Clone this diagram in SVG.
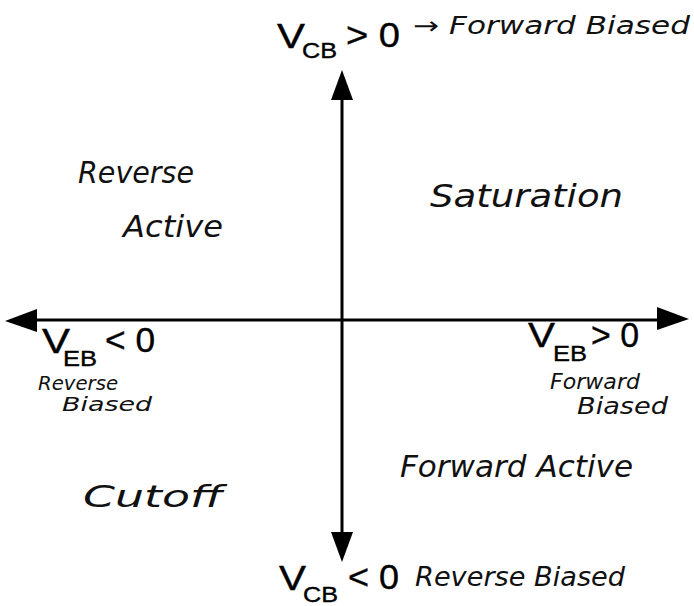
<svg xmlns="http://www.w3.org/2000/svg" width="694" height="606" viewBox="0 0 694 606">
<style>
.ax{stroke:#000;stroke-width:3;fill:none}
.ah{fill:#000}
.v{font-family:"Liberation Sans",Arial,sans-serif;fill:#000;stroke:#000;stroke-width:0.4}
.big{font-size:35px}
.sub{font-size:22px}
.hw{font-family:"DejaVu Sans","Liberation Sans",sans-serif;font-style:italic;fill:#111}
</style>
<rect width="694" height="606" fill="#fff"/>
<g id="axes">
<line class="ax" x1="342" y1="95" x2="342" y2="540"/>
<polygon class="ah" points="342,70 331,100 353,100"/>
<polygon class="ah" points="342,562 331,532 353,532"/>
<line class="ax" x1="30" y1="320" x2="665" y2="320"/>
<polygon class="ah" points="5,321 37,309 37,332"/>
<polygon class="ah" points="689,319 657,307 657,330"/>
</g>
<g id="vcb-pos">
<text class="v big" x="277" y="48" textLength="28" lengthAdjust="spacingAndGlyphs">V</text>
<text class="v sub" x="302" y="58" textLength="35" lengthAdjust="spacingAndGlyphs">CB</text>
<text class="v big" x="346" y="47" textLength="54" lengthAdjust="spacingAndGlyphs">&gt; 0</text>
<text class="hw" x="413" y="34" font-size="24" textLength="277" lengthAdjust="spacingAndGlyphs">→ Forward Biased</text>
</g>
<g id="vcb-neg">
<text class="v big" x="279" y="590" textLength="27" lengthAdjust="spacingAndGlyphs">V</text>
<text class="v sub" x="303" y="602" textLength="35" lengthAdjust="spacingAndGlyphs">CB</text>
<text class="v big" x="348" y="589" textLength="51" lengthAdjust="spacingAndGlyphs">&lt; 0</text>
<text class="hw" x="415" y="586" font-size="26" textLength="210" lengthAdjust="spacingAndGlyphs">Reverse Biased</text>
</g>
<g id="veb-neg">
<text class="v big" x="42" y="353" textLength="28" lengthAdjust="spacingAndGlyphs">V</text>
<text class="v sub" x="63" y="366" textLength="34" lengthAdjust="spacingAndGlyphs">EB</text>
<text class="v big" x="105" y="352" textLength="50" lengthAdjust="spacingAndGlyphs">&lt; 0</text>
<text class="hw" x="38" y="390" font-size="19" textLength="80" lengthAdjust="spacingAndGlyphs">Reverse</text>
<text class="hw" x="62" y="411" font-size="19" textLength="90" lengthAdjust="spacingAndGlyphs">Biased</text>
</g>
<g id="veb-pos">
<text class="v big" x="528" y="347" textLength="27" lengthAdjust="spacingAndGlyphs">V</text>
<text class="v sub" x="553" y="361" textLength="34" lengthAdjust="spacingAndGlyphs">EB</text>
<text class="v big" x="591" y="347" textLength="48" lengthAdjust="spacingAndGlyphs">&gt; 0</text>
<text class="hw" x="550" y="389" font-size="22" textLength="90" lengthAdjust="spacingAndGlyphs">Forward</text>
<text class="hw" x="577" y="414" font-size="23" textLength="91" lengthAdjust="spacingAndGlyphs">Biased</text>
</g>
<g id="reverse-active">
<text class="hw" x="78" y="183" font-size="30" textLength="116" lengthAdjust="spacingAndGlyphs">Reverse</text>
<text class="hw" x="123" y="237" font-size="30" textLength="100" lengthAdjust="spacingAndGlyphs">Active</text>
</g>
<g id="saturation">
<text class="hw" x="430" y="207" font-size="32" textLength="193" lengthAdjust="spacingAndGlyphs">Saturation</text>
</g>
<g id="cutoff">
<text class="hw" x="83" y="507" font-size="30" textLength="140" lengthAdjust="spacingAndGlyphs">Cutoff</text>
</g>
<g id="forward-active">
<text class="hw" x="400" y="477" font-size="30" textLength="233" lengthAdjust="spacingAndGlyphs">Forward Active</text>
</g>
</svg>
